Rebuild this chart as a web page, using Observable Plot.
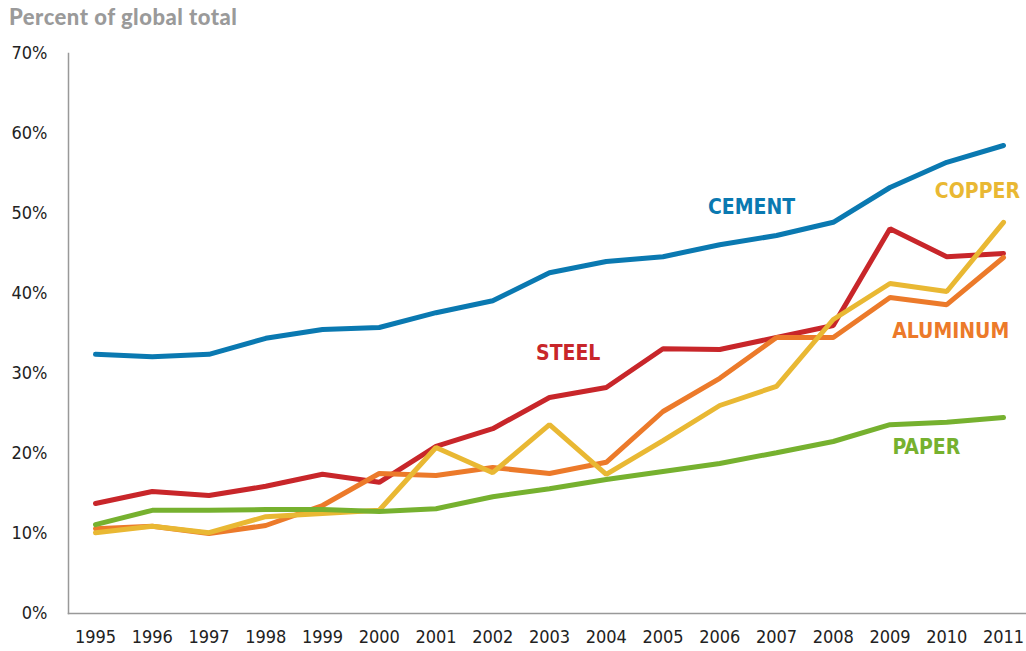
<!DOCTYPE html>
<html>
<head>
<meta charset="utf-8">
<script src="https://cdn.jsdelivr.net/npm/d3@7"></script>
<script src="https://cdn.jsdelivr.net/npm/@observablehq/plot@0.6"></script>
<style>
  body { margin: 0; background: #fff; font-family: "Liberation Sans Narrow", "DejaVu Sans Condensed", "Roboto", sans-serif; }
  #title { height: 30px; padding-left: 9px; font-family: "Lato", "DejaVu Sans", sans-serif; font-style: normal; font-weight: 900; font-size: 22px; color: #9a9a9a; line-height: 34px; letter-spacing: 0.5px; }
</style>
</head>
<body>
<div id="title">Percent of global total</div>
<div id="chart"></div>
<script>
const years = [1995,1996,1997,1998,1999,2000,2001,2002,2003,2004,2005,2006,2007,2008,2009,2010,2011];
const cement   = [32.4,32.1,32.4,34.4,35.5,35.75,37.6,39.1,42.6,44.0,44.6,46.1,47.25,48.9,53.25,56.4,58.5];
const steel    = [13.75,15.25,14.75,15.9,17.4,16.4,20.9,23.1,27.0,28.25,33.1,33.0,34.5,36.0,48.1,44.6,45.0];
const aluminum = [10.6,10.9,10.0,11.0,13.5,17.5,17.25,18.25,17.5,18.9,25.25,29.4,34.5,34.5,39.5,38.6,44.5];
const copper   = [10.1,10.9,10.1,12.1,12.5,12.9,20.75,17.6,23.6,17.4,21.6,26.0,28.4,36.75,41.25,40.25,48.9];
const paper    = [11.1,12.9,12.9,13.0,13.0,12.75,13.1,14.6,15.6,16.75,17.75,18.75,20.1,21.5,23.6,23.9,24.5];
const yTicks = [0,10,20,30,40,50,60,70];

const seriesNames = ["CEMENT","STEEL","ALUMINUM","COPPER","PAPER"];
const seriesColors = ["#0a79b1","#c8262a","#ec7a2a","#e9b833","#76b12f"];
const seriesValues = [cement, steel, aluminum, copper, paper];
const labelX = [2006.56, 2003.33, 2010.07, 2010.54, 2009.64];
const labelY = [50.75, 32.5, 35.25, 52.75, 20.75];

const rows = seriesNames.flatMap((name, i) => years.map((yr, j) => ({series: name, year: yr, value: seriesValues[i][j]})));
const labels = seriesNames.map((name, i) => ({series: name, x: labelX[i], y: labelY[i], color: seriesColors[i]}));

const plot = Plot.plot({
  width: 1026,
  height: 621,
  marginTop: 23,
  marginBottom: 38,
  marginLeft: 68,
  marginRight: 0,
  insetLeft: 27,
  insetRight: 23,
  style: { fontFamily: '"Liberation Sans Narrow", "DejaVu Sans Condensed", Roboto, sans-serif', fontSize: "18px", color: "#222", background: "#fff" },
  x: { type: "linear", domain: [1995, 2011] },
  y: { domain: [0, 70] },
  color: { domain: seriesNames, range: seriesColors },
  marks: [
    Plot.axisX({ ticks: years, tickFormat: d => String(d), tickSize: 0, tickPadding: 17, fontSize: 18, label: null }),
    Plot.axisY({ ticks: yTicks, tickFormat: d => d + "%", tickSize: 0, tickPadding: 21, fontSize: 18, label: null }),
    Plot.frame({ anchor: "left", stroke: "#999", strokeWidth: 1.5 }),
    Plot.frame({ anchor: "bottom", stroke: "#999", strokeWidth: 1.5 }),
    Plot.line(rows, { x: "year", y: "value", z: "series", stroke: "series", strokeWidth: 5, strokeLinejoin: "miter", strokeLinecap: "round" }),
    Plot.text(labels, { x: "x", y: "y", text: "series", fill: "color", fontSize: 21, fontWeight: "bold" })
  ]
});
document.getElementById("chart").appendChild(plot);
</script>
</body>
</html>
